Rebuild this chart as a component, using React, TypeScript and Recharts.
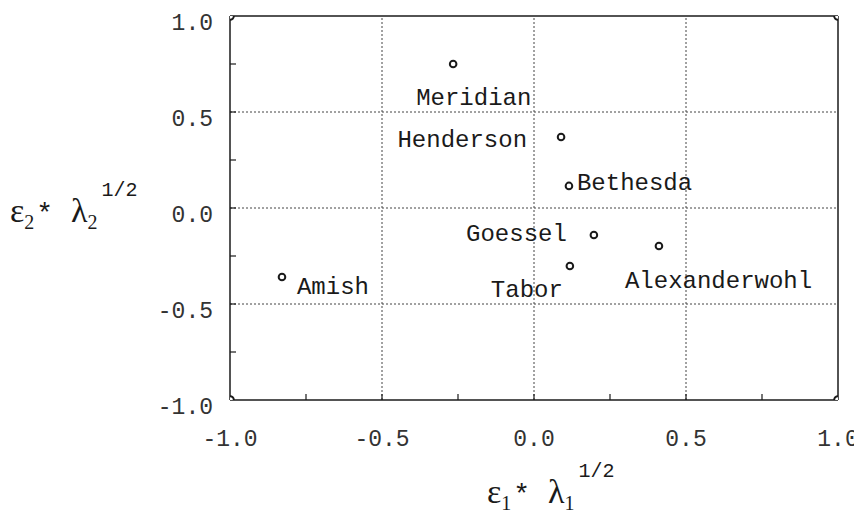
import React from "react";
import {
  ScatterChart,
  Scatter,
  XAxis,
  YAxis,
  ReferenceLine,
  Customized,
} from "recharts";

// church communities, correspondence analysis scores
const NAMES = ["Meridian", "Henderson", "Bethesda", "Goessel", "Alexanderwohl", "Tabor", "Amish"];
const DIM1 = [-0.266, 0.089, 0.115, 0.197, 0.411, 0.118, -0.829];
const DIM2 = [0.75, 0.37, 0.115, -0.141, -0.198, -0.302, -0.359];

const CORNER_X = [-1, 1, -1, 1];
const CORNER_Y = [-1, -1, 1, 1];

const TICKS = [-1, -0.75, -0.5, -0.25, 0, 0.25, 0.5, 0.75, 1];
const MAJOR_TICKS = [-1, -0.5, 0, 0.5, 1];
const GRID = [-0.5, 0, 0.5];

// label placement relative to the marker: [anchor, dx, dy(baseline)]
const LABEL_POS: Record<string, [string, number, number]> = {
  Meridian: ["start", -37, 41],
  Henderson: ["end", -34, 10],
  Bethesda: ["start", 8, 4],
  Goessel: ["end", -27, 6],
  Alexanderwohl: ["start", -34, 42],
  Tabor: ["end", -7, 31],
  Amish: ["start", 15, 17],
};

const points = NAMES.map((name, i) => ({ name, x: DIM1[i], y: DIM2[i] }));
const corners = CORNER_X.map((x, i) => ({ x, y: CORNER_Y[i] }));

const MONO = "'Liberation Mono', 'DejaVu Sans Mono', monospace";
const SERIF = "'Liberation Serif', 'DejaVu Serif', serif";
const INK = "#1a1a1a";

const W = 854;
const H = 524;

function XTick(props: any) {
  const { x, y, payload } = props;
  const v = payload.value;
  const major = MAJOR_TICKS.includes(v);
  return (
    <g>
      {v !== -1 && v !== 1 && (
        <line x1={x} x2={x} y1={y} y2={y - 6} stroke={INK} strokeWidth={1.2} />
      )}
      {major && (
        <text x={x} y={y + 46} textAnchor="middle" fontFamily={MONO} fontSize={23} fill="#333">
          {v.toFixed(1)}
        </text>
      )}
    </g>
  );
}

function YTick(props: any) {
  const { x, y, payload } = props;
  const v = payload.value;
  const major = MAJOR_TICKS.includes(v);
  return (
    <g>
      {v !== -1 && v !== 1 && (
        <line x1={x} x2={x + 6} y1={y} y2={y} stroke={INK} strokeWidth={1.2} />
      )}
      {major && (
        <text x={x - 17} y={y + 14} textAnchor="end" fontFamily={MONO} fontSize={23} fill="#333">
          {v.toFixed(1)}
        </text>
      )}
    </g>
  );
}

function PointShape(props: any) {
  const { cx, cy, payload } = props;
  const [anchor, dx, dy] = LABEL_POS[payload.name] || ["start", 8, 0];
  return (
    <g>
      <circle cx={cx} cy={cy} r={3.3} fill="#fff" stroke={INK} strokeWidth={2} />
      <text
        x={cx + dx}
        y={cy + dy}
        textAnchor={anchor as any}
        fontFamily={MONO}
        fontSize={24}
        fill={INK}
      >
        {payload.name}
      </text>
    </g>
  );
}

function CornerShape(props: any) {
  const { cx, cy } = props;
  return <circle cx={cx} cy={cy} r={3.8} fill="#fff" stroke={INK} strokeWidth={2} />;
}

function Title({ x, y, sub }: { x: number; y: number; sub: string }) {
  return (
    <text x={x} y={y} fontFamily={SERIF} fontSize={34} fill={INK}>
      <tspan>ε</tspan>
      <tspan fontSize={20} dy={7}>{sub}</tspan>
      <tspan fontFamily={MONO} fontSize={28} dx={2} dy={-7}>*</tspan>
      <tspan dx={18}>λ</tspan>
      <tspan fontSize={20} dy={7}>{sub}</tspan>
      <tspan fontFamily={MONO} fontSize={20} dx={4} dy={-33}>1/2</tspan>
    </text>
  );
}

function AxisTitles() {
  return (
    <g>
      <Title x={2} y={214} sub="2" />
      <Title x={479} y={495} sub="1" />
    </g>
  );
}

export default function App() {
  return (
    <ScatterChart
      width={W}
      height={H}
      margin={{ top: 8, right: 24, bottom: 0, left: 0 }}
      style={{ background: "#fff" }}
    >
      <XAxis
        type="number"
        dataKey="x"
        domain={[-1, 1]}
        ticks={TICKS}
        interval={0}
        height={132}
        tickSize={0}
        tickMargin={0}
        tickLine={false}
        tick={<XTick />}
        axisLine={{ stroke: INK, strokeWidth: 1.5 }}
        allowDataOverflow
      />
      <YAxis
        type="number"
        dataKey="y"
        domain={[-1, 1]}
        ticks={TICKS}
        interval={0}
        width={222}
        tickSize={0}
        tickMargin={0}
        tickLine={false}
        tick={<YTick />}
        axisLine={{ stroke: INK, strokeWidth: 1.5 }}
        allowDataOverflow
      />
      {GRID.map((g) => (
        <ReferenceLine key={"vx" + g} x={g} stroke="#444" strokeDasharray="2 2" strokeWidth={1} />
      ))}
      {GRID.map((g) => (
        <ReferenceLine key={"hy" + g} y={g} stroke="#444" strokeDasharray="2 2" strokeWidth={1} />
      ))}
      <ReferenceLine x={1} stroke={INK} strokeWidth={1.5} />
      <ReferenceLine y={1} stroke={INK} strokeWidth={1.5} />
      <Scatter data={corners} shape={<CornerShape />} isAnimationActive={false} />
      <Scatter data={points} shape={<PointShape />} isAnimationActive={false} />
      <Customized component={AxisTitles} />
    </ScatterChart>
  );
}
